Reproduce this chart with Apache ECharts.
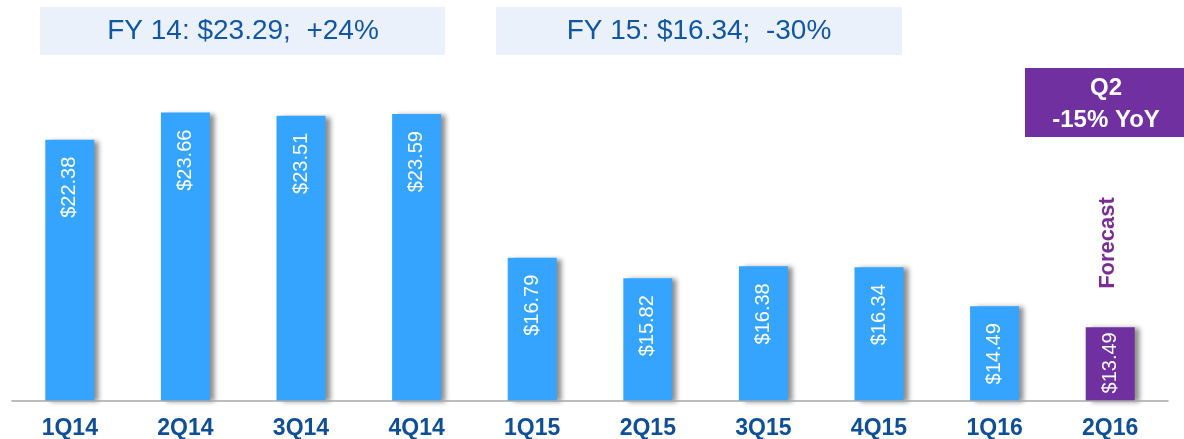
<!DOCTYPE html>
<html>
<head>
<meta charset="utf-8">
<style>
  html, body { margin: 0; padding: 0; background: #fff; }
  #chart { width: 1184px; height: 439px; }
</style>
<script src="https://cdn.jsdelivr.net/npm/echarts@6/dist/echarts.min.js"></script>
</head>
<body>
<div id="chart"></div>
<script>
const quarters = ['1Q14', '2Q14', '3Q14', '4Q14', '1Q15', '2Q15', '3Q15', '4Q15', '1Q16', '2Q16']
const revenue = [22.38, 23.66, 23.51, 23.59, 16.79, 15.82, 16.38, 16.34, 14.49, 13.49]
const forecastIndex = 9
const fyNotes = ['FY 14: $23.29;  +24%', 'FY 15: $16.34;  -30%']
const forecastNote = ['Q2', '-15% YoY']

const font = '"Liberation Sans", Arial, sans-serif'
const blue = '#35A4FF'
const purple = '#7030A0'

const chart = echarts.init(document.getElementById('chart'))

const barData = revenue.map((v, i) => {
  const item = { value: v }
  if (i === forecastIndex) {
    item.itemStyle = { color: purple }
    item.label = { distance: 5 }
  }
  return item
})

const option = {
  animation: false,
  grid: {
    left: 12,
    right: 16,
    top: 21,
    bottom: 38,
    containLabel: false,
    outerBoundsMode: 'none'
  },
  xAxis: {
    type: 'category',
    data: quarters,
    z: 3,
    axisLine: {
      lineStyle: { color: '#A6A6A6', width: 1.5 }
    },
    axisTick: {
      length: 6,
      lineStyle: { color: '#A6A6A6', width: 1.5 }
    },
    axisLabel: {
      margin: 16,
      color: '#0E4F97',
      fontWeight: 'bold',
      fontSize: 23,
      fontFamily: font
    }
  },
  yAxis: {
    type: 'value',
    min: 10,
    max: 28,
    show: false,
    splitLine: { show: false }
  },
  series: [
    {
      type: 'bar',
      data: barData,
      barWidth: 49,
      itemStyle: {
        color: blue,
        shadowColor: 'rgba(0, 0, 0, 0.45)',
        shadowBlur: 5,
        shadowOffsetX: 5,
        shadowOffsetY: 1
      },
      label: {
        show: true,
        position: 'insideTop',
        rotate: 90,
        align: 'right',
        verticalAlign: 'middle',
        distance: 17,
        color: '#fff',
        fontSize: 20,
        fontFamily: font,
        formatter: (p) => '$' + p.value.toFixed(2)
      }
    }
  ],
  graphic: [
    {
      type: 'rect',
      left: 40,
      top: 7,
      shape: { width: 405, height: 48 },
      style: { fill: '#EBF1FA' }
    },
    {
      type: 'text',
      x: 243,
      y: 31,
      style: {
        text: fyNotes[0],
        fill: '#1157A5',
        font: '28px ' + font,
        align: 'center',
        verticalAlign: 'middle'
      }
    },
    {
      type: 'rect',
      left: 496,
      top: 7,
      shape: { width: 406, height: 48 },
      style: { fill: '#EBF1FA' }
    },
    {
      type: 'text',
      x: 699,
      y: 31,
      style: {
        text: fyNotes[1],
        fill: '#1157A5',
        font: '28px ' + font,
        align: 'center',
        verticalAlign: 'middle'
      }
    },
    {
      type: 'rect',
      left: 1025,
      top: 68,
      shape: { width: 159, height: 69 },
      style: { fill: purple }
    },
    {
      type: 'text',
      x: 1106,
      y: 88,
      style: {
        text: forecastNote[0],
        fill: '#fff',
        font: 'bold 24px ' + font,
        align: 'center',
        verticalAlign: 'middle'
      }
    },
    {
      type: 'text',
      x: 1106,
      y: 120,
      style: {
        text: forecastNote[1],
        fill: '#fff',
        font: 'bold 24px ' + font,
        align: 'center',
        verticalAlign: 'middle'
      }
    },
    {
      type: 'text',
      x: 1108,
      y: 243,
      rotation: Math.PI / 2,
      style: {
        text: 'Forecast',
        fill: '#7B2C94',
        font: 'bold 22px ' + font,
        align: 'center',
        verticalAlign: 'middle'
      }
    }
  ]
}

chart.setOption(option)
</script>
</body>
</html>
